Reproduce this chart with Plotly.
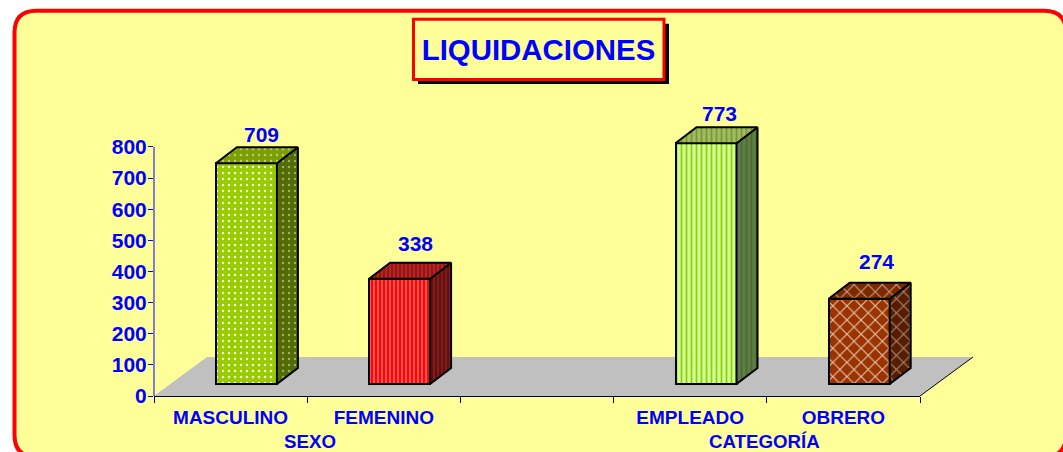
import plotly.graph_objects as go

# ---- data ----
categories = ["MASCULINO", "FEMENINO", " ", "EMPLEADO", "OBRERO"]
bar_positions = [0, 1, 3, 4]
bar_values = [709, 338, 773, 274]
group_labels = ["SEXO", "CATEGORÍA"]
group_centres = [1, 4]
y_ticks = [0, 100, 200, 300, 400, 500, 600, 700, 800]

# ---- styles ----
front_colors = ["#99CC00", "#FF5050", "#CCFF99", "#993300"]
front_fg = ["#F4FAE0", "#F50000", "#99CC00", "#EBC8B0"]
side_colors = ["#526C00", "#851A1A", "#5D7F45", "#561D00"]
side_fg = ["#9DAA78", "#5A0F0F", "#4C6A30", "#A88A78"]
top_colors = ["#7C9F00", "#B82424", "#9DBB6A", "#7C2900"]
top_fg = ["#B8C884", "#8E1414", "#7D9A20", "#C8A08A"]
shapes_pat = [".", "|", "|", "x"]
pat_size = [6, 4, 5, 10]
pat_sol = [0.14, 0.45, 0.35, 0.2]
BLUE = "#0000FF"
FONT = "Liberation Sans"

# ---- pixel layout of the plot ----
W, H = 1063, 452
L, R, Y800, B = 154, 920, 147, 396
Y_MAX = 880                            # axis runs above 800 so the tallest bar's 3D top fits
px_x = (R - L) / len(categories)       # pixels per category
px_y = (B - Y800) / 800                # pixels per value unit
T = B - Y_MAX * px_y

def dx(px):
    return px / px_x

def dy(px):
    return px / px_y

def paper_x(px):
    return (px - L) / (R - L)

def paper_y(px):
    return (B - px) / (B - T)

# 3D projection offsets, in data units
front_x, front_y = dx(15.8), dy(12)     # front face relative to the axis plane
depth_x, depth_y = dx(21), dy(16)       # depth of a bar
floor_x, floor_y = dx(53), dy(39)       # depth of the floor
bar_w = dx(61)

fig = go.Figure()

centres = [p + 0.5 + front_x for p in bar_positions]

for i, (c, v) in enumerate(zip(centres, bar_values)):
    # front face
    fig.add_trace(go.Bar(
        x=[c],
        y=[v],
        base=[front_y],
        width=bar_w,
        hoverinfo="skip",
        marker=dict(
            color=front_colors[i],
            line=dict(color="#000000", width=2),
            pattern=dict(shape=shapes_pat[i], fgcolor=front_fg[i], bgcolor=front_colors[i],
                         size=pat_size[i], solidity=pat_sol[i], fillmode="replace"),
        ),
    ))
    # side and top faces, from the same values
    x0, x1 = c - bar_w / 2, c + bar_w / 2
    y0, y1 = front_y, front_y + v
    pattern = dict(shape=shapes_pat[i], size=pat_size[i], solidity=pat_sol[i],
                   fillmode="replace")
    fig.add_trace(go.Scatter(
        x=[x1, x1 + depth_x, x1 + depth_x, x1, x1],
        y=[y0, y0 + depth_y, y1 + depth_y, y1, y0],
        mode="lines", fill="toself", cliponaxis=False, hoverinfo="skip",
        line=dict(color="#000000", width=2),
        fillcolor=side_colors[i],
        fillpattern=dict(pattern, fgcolor=side_fg[i], bgcolor=side_colors[i]),
    ))
    fig.add_trace(go.Scatter(
        x=[x0, x0 + depth_x, x1 + depth_x, x1, x0],
        y=[y1, y1 + depth_y, y1 + depth_y, y1, y1],
        mode="lines", fill="toself", cliponaxis=False, hoverinfo="skip",
        line=dict(color="#000000", width=2),
        fillcolor=top_colors[i],
        fillpattern=dict(pattern, fgcolor=top_fg[i], bgcolor=top_colors[i]),
    ))

n = len(categories)
shapes = [
    # rounded yellow panel with red border
    dict(type="path", xref="paper", yref="paper", layer="below",
         path=(f"M {paper_x(14.5)} {paper_y(33)} "
               f"Q {paper_x(14.5)} {paper_y(11)} {paper_x(36.5)} {paper_y(11)} "
               f"L {paper_x(1044)} {paper_y(11)} "
               f"Q {paper_x(1066)} {paper_y(11)} {paper_x(1066)} {paper_y(33)} "
               f"L {paper_x(1066)} {paper_y(435)} "
               f"Q {paper_x(1066)} {paper_y(457)} {paper_x(1044)} {paper_y(457)} "
               f"L {paper_x(36.5)} {paper_y(457)} "
               f"Q {paper_x(14.5)} {paper_y(457)} {paper_x(14.5)} {paper_y(435)} Z"),
         fillcolor="#FFFF99", line=dict(color="#FF0000", width=4)),
    # floor
    dict(type="path", xref="paper", yref="paper", layer="below",
         path=(f"M 0 0 L {floor_x / n} {floor_y / Y_MAX} "
               f"L {1 + floor_x / n} {floor_y / Y_MAX} L 1 0 Z"),
         fillcolor="#C0C0C0", line=dict(width=0)),
    dict(type="line", xref="paper", yref="paper", layer="below",
         x0=1, y0=0, x1=1 + floor_x / n, y1=floor_y / Y_MAX,
         line=dict(color="#000000", width=1)),
    # y axis line, stops at the top tick
    dict(type="line", xref="paper", yref="paper", layer="below",
         x0=0, y0=0, x1=0, y1=y_ticks[-1] / Y_MAX,
         line=dict(color=BLUE, width=1)),
    # title box shadow and box
    dict(type="rect", xref="paper", yref="paper", layer="below",
         x0=paper_x(418), x1=paper_x(669), y0=paper_y(84), y1=paper_y(24),
         fillcolor="#000000", line=dict(width=0)),
    dict(type="rect", xref="paper", yref="paper", layer="below",
         x0=paper_x(413.5), x1=paper_x(664), y0=paper_y(79.5), y1=paper_y(19.5),
         fillcolor="#FFFF99", line=dict(color="#FF0000", width=3)),
]

label_font = dict(family=FONT, size=21, color=BLUE, weight="bold")
small_font = dict(family=FONT, size=19, color=BLUE, weight="bold")
group_font = dict(family=FONT, size=18.7, color=BLUE, weight="bold")

annotations = []
# value labels, placed above each bar as in the reference
lifts = [13, 19, 14, 21]
nudges = [0, 1, -1.5, 3]
for c, v, lift, nudge in zip(centres, bar_values, lifts, nudges):
    annotations.append(dict(
        x=c + depth_x * 0.7, y=front_y + v + depth_y, xref="x", yref="y",
        text=str(v), showarrow=False, yshift=lift, xshift=nudge, yanchor="middle",
        font=label_font,
    ))
group_nudges = [2.5, -2]
for label, centre, nudge in zip(group_labels, group_centres, group_nudges):
    annotations.append(dict(
        x=centre, y=paper_y(441), xref="x", yref="paper", text=label,
        showarrow=False, yanchor="middle", xshift=nudge, font=group_font,
    ))

fig.update_layout(
    width=W, height=H,
    margin=dict(l=L, r=W - R, t=T, b=H - B, autoexpand=False),
    paper_bgcolor="#FFFFFF",
    plot_bgcolor="rgba(0,0,0,0)",
    showlegend=False,
    barmode="overlay",
    bargap=0,
    title=dict(
        text="LIQUIDACIONES", x=538.5 / W, xref="container", xanchor="center",
        y=1 - 50 / H, yref="container", yanchor="middle",
        font=dict(family=FONT, size=29.4, color=BLUE, weight="bold"),
    ),
    shapes=shapes,
    annotations=annotations,
    xaxis=dict(
        range=[0, n],
        tickmode="array",
        tickvals=[i + 0.5 for i in range(n)],
        ticktext=categories,
        ticks="",
        ticklabelstandoff=4,
        tickangle=0,
        tickfont=small_font,
        showgrid=False,
        zeroline=False,
        showline=True,
        linecolor="#000000",
        linewidth=1,
        minor=dict(tickvals=list(range(n + 1)), ticks="outside", ticklen=6,
                   tickcolor="#000000", tickwidth=1, showgrid=False),
    ),
    yaxis=dict(
        range=[0, Y_MAX],
        tickmode="array",
        tickvals=y_ticks,
        ticks="outside",
        ticklen=5,
        tickcolor=BLUE,
        tickwidth=1,
        tickfont=label_font,
        ticklabelstandoff=-3,
        showgrid=False,
        zeroline=False,
        showline=False,
    ),
)

fig.write_html("out.html", config={"displayModeBar": False},
               post_script="document.body.style.margin='0';document.documentElement.style.overflow='hidden';")
